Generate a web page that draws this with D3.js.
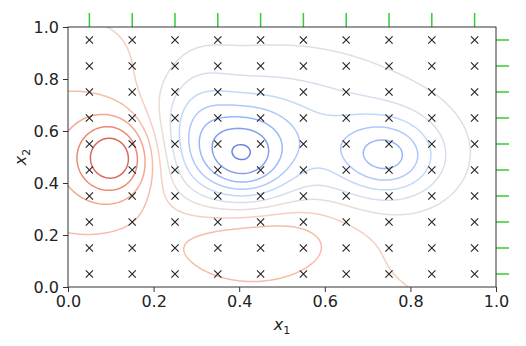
<!DOCTYPE html>
<html>
<head>
<meta charset="utf-8">
<script src="https://cdn.jsdelivr.net/npm/d3@7"></script>
<style>
  body { margin: 0; background: #fff; }
  text { font-family: "DejaVu Sans", sans-serif; fill: #222; }
</style>
</head>
<body>
<div id="chart"></div>
<script>
// sample locations (the x markers), both axes
var samplePts = [0.05, 0.15, 0.25, 0.35, 0.45, 0.55, 0.65, 0.75, 0.85, 0.95];
var xTicks = [0.0, 0.2, 0.4, 0.6, 0.8, 1.0];
var yTicks = [0.0, 0.2, 0.4, 0.6, 0.8, 1.0];
var levels = [-1.0, -0.8, -0.6, -0.4, -0.2, 0.0, 0.2, 0.4, 0.6, 0.8, 1.0, 1.2];

var baseValue = 0.3;
var bumpX   = [0.11, 0.00, 0.41, 0.75, 0.48, 0.45, 0.40, 0.30];
var bumpY   = [0.50, 0.50, 0.49, 0.50, 0.60, 0.19, -0.10, 0.60];
var bumpAmp = [0.81, 0.42, -0.85, -0.80, -0.55, 0.46, 0.22, -0.35];
var bumpSx  = [0.065, 0.17, 0.075, 0.085, 0.20, 0.15, 0.35, 0.06];
var bumpSy  = [0.11, 0.32, 0.125, 0.11, 0.18, 0.11, 0.15, 0.17];

// coolwarm stops
var coolwarm = ["#3b4cc0", "#6282ea", "#8db0fe", "#b8d0f9", "#dddddd",
                "#f5c4ad", "#f49a7b", "#de604d", "#b40426"];

var margin = {top: 27, right: 30, bottom: 59, left: 68};
var width = 526 - margin.left - margin.right;
var height = 346 - margin.top - margin.bottom;

var svg = d3.select("#chart").append("svg")
    .attr("width", 526)
    .attr("height", 346)
  .append("g")
    .attr("transform", "translate(" + margin.left + "," + margin.top + ")");

var x = d3.scaleLinear().domain([0, 1]).range([0, width]);
var y = d3.scaleLinear().domain([0, 1]).range([height, 0]);

function surface(px, py) {
    var v = baseValue;
    for (var i = 0; i < bumpX.length; i++) {
        var dx = (px - bumpX[i]) / bumpSx[i];
        var dy = (py - bumpY[i]) / bumpSy[i];
        v += bumpAmp[i] * Math.exp(-0.5 * (dx * dx + dy * dy));
    }
    return v;
}

// grid a bit larger than the axes so edge closing is clipped away
var g0 = -0.03, step = 0.004;
var nx = Math.round(1.06 / step) + 1, ny = nx;
var values = new Array(nx * ny);
for (var j = 0; j < ny; j++) {
    for (var i = 0; i < nx; i++) {
        values[j * nx + i] = surface(g0 + i * step, g0 + j * step);
    }
}

var color = d3.piecewise(d3.interpolateRgb, coolwarm);
var levelColor = function(k) { return color(0.08 + 0.075 * k); };

svg.append("clipPath").attr("id", "clip")
  .append("rect").attr("width", width).attr("height", height);

var path = d3.geoPath(d3.geoTransform({
    point: function(gx, gy) {
        this.stream.point(x(g0 + (gx - 0.5) * step), y(g0 + (gy - 0.5) * step));
    }
}));

var contours = d3.contours().size([nx, ny]).thresholds(levels)(values);

svg.append("g")
    .attr("clip-path", "url(#clip)")
  .selectAll("path")
  .data(contours)
  .enter().append("path")
    .attr("d", path)
    .attr("fill", "none")
    .attr("stroke", function(d) { return levelColor(levels.indexOf(d.value)); })
    .attr("stroke-width", 1.5)
    .attr("stroke-opacity", 0.85);

// sample markers
var pts = [];
samplePts.forEach(function(a) { samplePts.forEach(function(b) { pts.push([a, b]); }); });
svg.append("g").selectAll("path")
  .data(pts)
  .enter().append("path")
    .attr("d", function(d) {
        var cx = x(d[0]), cy = y(d[1]), s = 3.6;
        return "M" + (cx - s) + "," + (cy - s) + "L" + (cx + s) + "," + (cy + s) +
               "M" + (cx - s) + "," + (cy + s) + "L" + (cx + s) + "," + (cy - s);
    })
    .attr("stroke", "#222")
    .attr("stroke-width", 1.1);

// green rug ticks on top and right
svg.append("g").selectAll("line")
  .data(samplePts)
  .enter().append("line")
    .attr("x1", function(d) { return x(d); })
    .attr("x2", function(d) { return x(d); })
    .attr("y1", 0).attr("y2", -14)
    .attr("stroke", "#33cc33").attr("stroke-width", 1.5);
svg.append("g").selectAll("line")
  .data(samplePts)
  .enter().append("line")
    .attr("y1", function(d) { return y(d); })
    .attr("y2", function(d) { return y(d); })
    .attr("x1", width).attr("x2", width + 13)
    .attr("stroke", "#33cc33").attr("stroke-width", 1.5);

// axes
var xAxis = d3.axisBottom(x).tickValues(xTicks).tickFormat(d3.format(".1f")).tickSize(5).tickPadding(4);
var yAxis = d3.axisLeft(y).tickValues(yTicks).tickFormat(d3.format(".1f")).tickSize(5).tickPadding(4);

svg.append("g")
    .attr("class", "x-axis")
    .attr("transform", "translate(0," + height + ")")
    .call(xAxis);
svg.append("g")
    .attr("class", "y-axis")
    .call(yAxis);

svg.selectAll(".x-axis text, .y-axis text")
    .style("font-size", "16px").attr("fill", "#222");
svg.selectAll(".domain").remove();
svg.selectAll(".tick line").attr("stroke", "#333");

svg.append("rect")
    .attr("width", width).attr("height", height)
    .attr("fill", "none").attr("stroke", "#333").attr("stroke-width", 1);

// axis labels
var xl = svg.append("text")
    .attr("x", width / 2).attr("y", height + 43)
    .attr("text-anchor", "middle").style("font-size", "16px");
xl.append("tspan").style("font-style", "italic").text("x");
xl.append("tspan").attr("dy", 4).style("font-size", "11px").text("1");

var yl = svg.append("text")
    .attr("transform", "translate(" + (-42) + "," + (height / 2) + ") rotate(-90)")
    .attr("text-anchor", "middle").style("font-size", "16px");
yl.append("tspan").style("font-style", "italic").text("x");
yl.append("tspan").attr("dy", 4).style("font-size", "11px").text("2");
</script>
</body>
</html>
